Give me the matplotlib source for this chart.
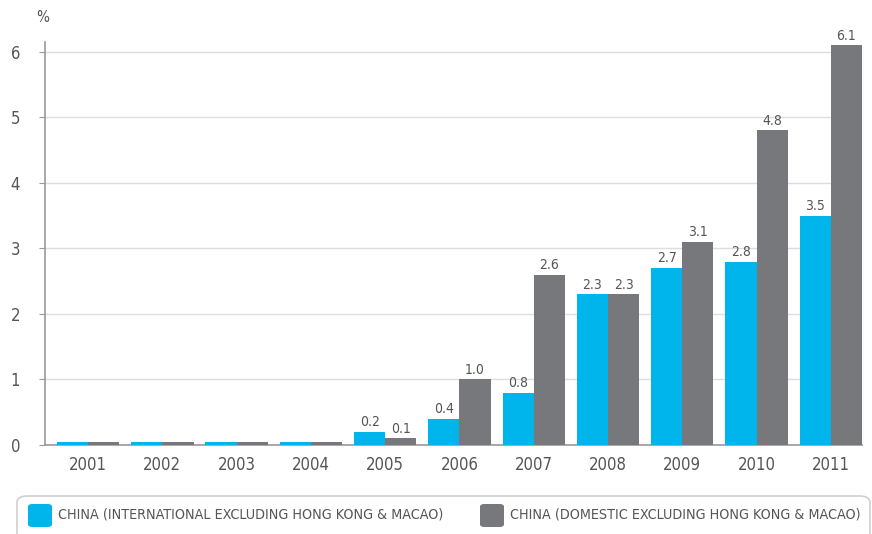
import matplotlib
matplotlib.use("Agg")
import matplotlib.pyplot as plt
import numpy as np
from matplotlib.patches import FancyBboxPatch

years = ["2001", "2002", "2003", "2004", "2005", "2006", "2007", "2008", "2009", "2010", "2011"]
international = [0.04, 0.04, 0.04, 0.04, 0.2, 0.4, 0.8, 2.3, 2.7, 2.8, 3.5]
domestic = [0.04, 0.04, 0.04, 0.04, 0.1, 1.0, 2.6, 2.3, 3.1, 4.8, 6.1]
intl_labels = [None, None, None, None, "0.2", "0.4", "0.8", "2.3", "2.7", "2.8", "3.5"]
dom_labels = [None, None, None, None, "0.1", "1.0", "2.6", "2.3", "3.1", "4.8", "6.1"]
legend_names = ["CHINA (INTERNATIONAL EXCLUDING HONG KONG & MACAO)",
                "CHINA (DOMESTIC EXCLUDING HONG KONG & MACAO)"]

CYAN = "#00b4ec"
GREY = "#77787b"
TEXT = "#555555"

plt.rcParams['font.family'] = ['DejaVu Sans']
plt.rcParams['font.stretch'] = 'condensed'

W, H = 872, 534
fig = plt.figure(figsize=(W / 100, H / 100), dpi=100)
ax = fig.add_axes([45 / W, 89 / H, (862 - 45) / W, (445 - 42) / H])

x = np.arange(len(years))
bw = 0.42
ax.bar(x - bw / 2, international, bw, color=CYAN, zorder=3)
ax.bar(x + bw / 2, domestic, bw, color=GREY, zorder=3)

for xi, v, lab in zip(x, international, intl_labels):
    if lab:
        ax.text(xi - bw / 2, v + 0.04, lab, ha="center", va="bottom", fontsize=10, color=TEXT)
for xi, v, lab in zip(x, domestic, dom_labels):
    if lab:
        ax.text(xi + bw / 2, v + 0.04, lab, ha="center", va="bottom", fontsize=10, color=TEXT)

ax.set_xlim(-0.58, len(years) - 0.58)
ax.set_ylim(0, 6.15)
ax.set_yticks(range(0, 7))
ax.set_xticks(x)
ax.set_xticklabels(years)
ax.tick_params(axis="y", length=4, color="#999999", labelcolor=TEXT, labelsize=12, pad=14)
ax.tick_params(axis="x", length=0, labelcolor=TEXT, labelsize=12, pad=8)
ax.grid(axis="y", color="#dddddd", linewidth=1, zorder=0)
for s in ["top", "right"]:
    ax.spines[s].set_visible(False)
for s in ["left", "bottom"]:
    ax.spines[s].set_color("#999999")
    ax.spines[s].set_linewidth(1.2)

fig.text(36 / W, 1 - 17 / H, "%", ha="left", va="center", fontsize=11, color=TEXT)

# legend box
box = FancyBboxPatch((17 / W, -10 / H), (870 - 17) / W, (H + 10 - 496) / H,
                     boxstyle="round,pad=0,rounding_size=0.012",
                     transform=fig.transFigure, facecolor="white",
                     edgecolor="#d0d0d0", linewidth=1.2)
fig.patches.append(box)
for px, name, col in [(28, legend_names[0], CYAN), (480, legend_names[1], GREY)]:
    fig.patches.append(FancyBboxPatch((px / W, (H - 527) / H), 24 / W, 23 / H,
                                      boxstyle="round,pad=0,rounding_size=0.005",
                                      transform=fig.transFigure, facecolor=col,
                                      edgecolor="none"))
    fig.text((px + 30) / W, (H - 515) / H, name, ha="left", va="center",
             fontsize=10.3, color=TEXT)

fig.savefig("out.png", dpi=100)
